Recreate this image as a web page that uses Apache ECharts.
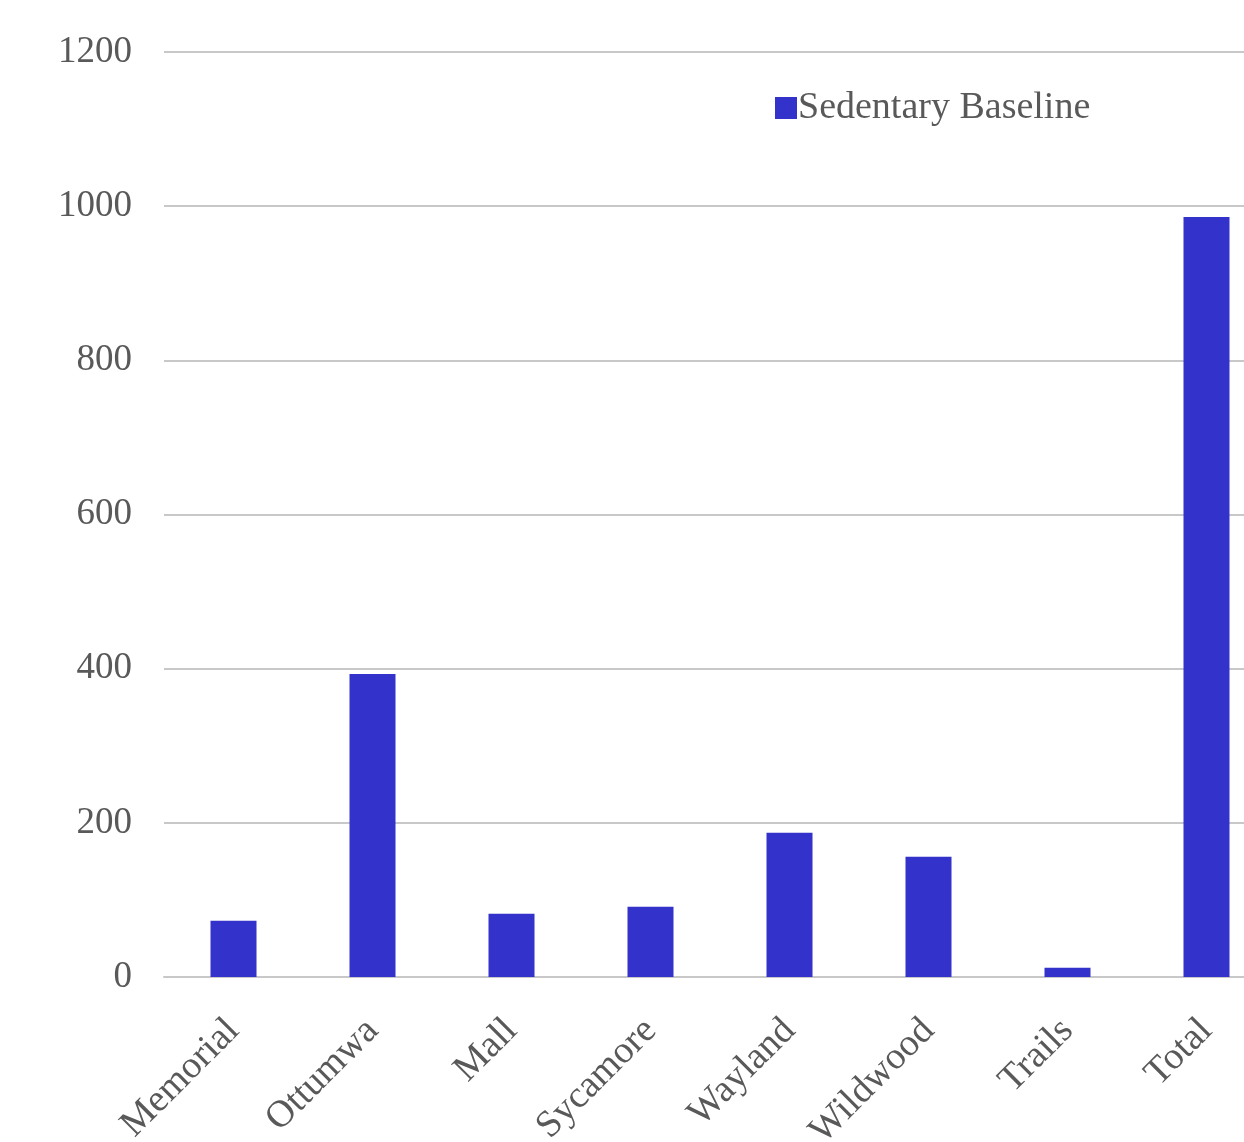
<!DOCTYPE html>
<html>
<head>
<meta charset="utf-8">
<script src="https://cdn.jsdelivr.net/npm/echarts@6/dist/echarts.min.js"></script>
<style>
  html, body { margin: 0; padding: 0; background: #fff; }
  #chart { width: 1244px; height: 1142px; }
</style>
</head>
<body>
<div id="chart"></div>
<script>
// Sedentary baseline counts per site
const categories = ['Memorial', 'Ottumwa', 'Mall', 'Sycamore', 'Wayland', 'Wildwood', 'Trails', 'Total'];
const sedentaryBaseline = [73, 393, 82, 91, 187, 156, 12, 986];
const seriesName = 'Sedentary Baseline';

const textColor = '#595959';
const fontFamily = '"Liberation Serif", "DejaVu Serif", serif';

const chart = echarts.init(document.getElementById('chart'));
chart.setOption({
  animation: false,
  backgroundColor: '#ffffff',
  legend: {
    left: 770,
    top: 84,
    itemWidth: 22,
    itemHeight: 22,
    itemGap: 10,
    icon: 'rect',
    textStyle: { color: textColor, fontFamily: fontFamily, fontSize: 38, padding: [0, 0, 0, -4] },
    data: [seriesName]
  },
  // plot area runs a little past the right edge of the canvas
  grid: { left: 164, width: 1112, top: 52, bottom: 165, containLabel: false, outerBoundsMode: 'none' },
  xAxis: {
    type: 'category',
    data: categories,
    axisTick: { show: false },
    axisLine: { show: true, lineStyle: { color: '#c8c8c8', width: 2 } },
    axisLabel: {
      rotate: 45,
      margin: 48,
      interval: 0,
      color: textColor,
      fontFamily: fontFamily,
      fontSize: 38
    }
  },
  yAxis: {
    type: 'value',
    min: 0,
    max: 1200,
    interval: 200,
    axisLine: { show: false },
    axisTick: { show: false },
    splitLine: { lineStyle: { color: '#c8c8c8', width: 2 } },
    axisLabel: {
      margin: 32,
      color: textColor,
      fontFamily: fontFamily,
      fontSize: 37,
      padding: [4, 0, 0, 0],
      formatter: function (v) { return String(v); }
    }
  },
  series: [{
    name: seriesName,
    type: 'bar',
    data: sedentaryBaseline,
    barWidth: 46,
    itemStyle: { color: '#3333cc' }
  }]
});
</script>
</body>
</html>
